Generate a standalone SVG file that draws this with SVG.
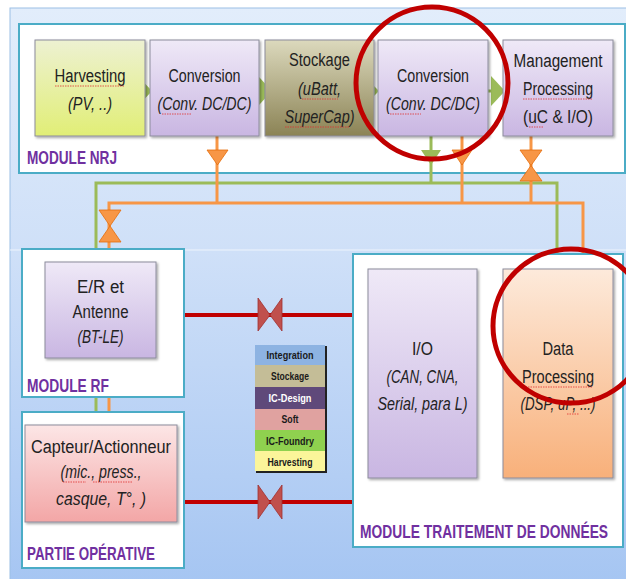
<svg xmlns="http://www.w3.org/2000/svg" width="626" height="579" viewBox="0 0 626 579">
<defs>
<linearGradient id="bg" x1="0" y1="0" x2="0" y2="1">
<stop offset="0" stop-color="#e2edfb"/><stop offset="0.42" stop-color="#cfe0f8"/><stop offset="1" stop-color="#a5c5f2"/>
</linearGradient>
<linearGradient id="gHarv" x1="0" y1="0" x2="0" y2="1"><stop offset="0" stop-color="#edf1d2"/><stop offset="1" stop-color="#e1ee76"/></linearGradient>
<linearGradient id="gLav" x1="0" y1="0" x2="0" y2="1"><stop offset="0" stop-color="#efe9f7"/><stop offset="1" stop-color="#c9b6e2"/></linearGradient>
<linearGradient id="gStock" x1="0" y1="0" x2="0" y2="1"><stop offset="0" stop-color="#dcd9bd"/><stop offset="1" stop-color="#8b8355"/></linearGradient>
<linearGradient id="gPink" x1="0" y1="0" x2="0" y2="1"><stop offset="0" stop-color="#fce6e6"/><stop offset="1" stop-color="#f3a6a6"/></linearGradient>
<linearGradient id="gOr" x1="0" y1="0" x2="0" y2="1"><stop offset="0" stop-color="#fdeadb"/><stop offset="1" stop-color="#f8b07a"/></linearGradient>
<filter id="sh" x="-10%" y="-10%" width="130%" height="130%"><feDropShadow dx="1.5" dy="1.5" stdDeviation="1.2" flood-color="#000" flood-opacity="0.35"/></filter>
</defs>
<style>
.t{font-family:"Liberation Sans",Arial,sans-serif;font-size:18px;fill:#222;text-anchor:middle}
.i{font-style:italic}
.lbl{font-family:"Liberation Sans",Arial,sans-serif;font-weight:bold;font-size:19px;fill:#7030a0}
.mod{fill:#fff;stroke:#4bacc6;stroke-width:2}
.box{stroke:#8c8c9c;stroke-width:1;filter:url(#sh)}
.gl{stroke:#9bbb59;stroke-width:3;fill:none}
.ol{stroke:#f79646;stroke-width:3;fill:none}
.gt{fill:#9bbb59}
.ot{fill:#f79646;stroke:#e46c0a;stroke-width:0.8}
.rl{stroke:#c00000;stroke-width:4;fill:none}
.rb{fill:#c0504d;stroke:#a03030;stroke-width:0.8}
.lg{font-family:"Liberation Sans",Arial,sans-serif;font-weight:bold;font-size:11px;fill:#1a1a1a;text-anchor:middle}
.sq{stroke:#e03030;stroke-width:0.8;stroke-dasharray:1.5 1;fill:none}
.circ{fill:none;stroke:#c00000;stroke-width:5}
</style>
<rect x="0" y="0" width="626" height="579" fill="#ffffff"/>
<rect x="10" y="8" width="620" height="580" fill="url(#bg)" stroke="#9cc0e6" stroke-width="1"/>
<line x1="10" y1="250" x2="626" y2="250" stroke="#eef4fc" stroke-width="1"/>

<g id="module-nrj">
<rect class="mod" x="19" y="24" width="606" height="149"/>
<text class="lbl" x="27" y="164" textLength="90" lengthAdjust="spacingAndGlyphs">MODULE NRJ</text>
</g>

<g id="connectors">
<polyline class="gl" points="96,412 96,183 557,183 557,256"/>
<polyline class="ol" points="109,412 109,203 583,203 583,256"/>
<line class="ol" x1="217" y1="136" x2="217" y2="203"/>
<line class="gl" x1="431" y1="136" x2="431" y2="183"/>
<line class="ol" x1="462" y1="136" x2="462" y2="203"/>
<line class="ol" x1="531" y1="136" x2="531" y2="203"/>
<polygon class="ot" points="207,150 228,150 217.5,165"/>
<polygon class="gt" points="421,150 441,150 431,165"/>
<polygon class="ot" points="452,150 472,150 462,165"/>
<polygon class="ot" points="520,150 542,150 531,165.5 542,181 520,181 531,165.5"/>
<polygon class="ot" points="99,210 121,210 110,226 121,242 99,242 110,226"/>
<line class="rl" x1="184" y1="315" x2="354" y2="315"/>
<line class="rl" x1="184" y1="502" x2="354" y2="502"/>
<polygon class="rb" points="258,298 270,315 282,298 282,331 270,315 258,331"/>
<polygon class="rb" points="258,485 270,502 282,485 282,519 270,502 258,519"/>
<line class="gl" x1="135" y1="91" x2="142" y2="91"/><polygon class="gt" points="138,76 152,91 138,106"/>
<line class="gl" x1="256" y1="91" x2="262" y2="91"/><polygon class="gt" points="259,77 272,91 259,105"/>
<line class="gl" x1="362" y1="91" x2="368" y2="91"/><polygon class="gt" points="365,77 379,91 365,105"/>
<line class="gl" x1="483" y1="91" x2="495" y2="91"/><polygon class="gt" points="491,76 505,91 491,106"/>
</g>

<g id="harvesting">
<rect class="box" x="35" y="40" width="110" height="96" fill="url(#gHarv)" stroke="#333"/>
<text class="t" x="90" y="82" textLength="71" lengthAdjust="spacingAndGlyphs">Harvesting</text>
<text class="t i" x="90" y="110" textLength="44" lengthAdjust="spacingAndGlyphs">(PV, ..)</text>
<path class="sq" d="M55,86 H125"/>
</g>
<g id="conversion1">
<rect class="box" x="150" y="40" width="109" height="96" fill="url(#gLav)"/>
<text class="t" x="204.5" y="82" textLength="72" lengthAdjust="spacingAndGlyphs">Conversion</text>
<text class="t i" x="204.5" y="110" textLength="94" lengthAdjust="spacingAndGlyphs">(Conv. DC/DC)</text>
<path class="sq" d="M162,114 H192"/>
</g>
<g id="stockage">
<rect class="box" x="265" y="40" width="109" height="96" fill="url(#gStock)"/>
<text class="t" x="319.5" y="66" textLength="61" lengthAdjust="spacingAndGlyphs">Stockage</text>
<text class="t i" x="319.5" y="95" textLength="43" lengthAdjust="spacingAndGlyphs">(uBatt,</text>
<text class="t i" x="319.5" y="123" textLength="70" lengthAdjust="spacingAndGlyphs">SuperCap)</text>
<path class="sq" d="M302,99 H338 M285,127 H350"/>
</g>
<g id="conversion2">
<rect class="box" x="378" y="40" width="110" height="96" fill="url(#gLav)"/>
<text class="t" x="433" y="82" textLength="72" lengthAdjust="spacingAndGlyphs">Conversion</text>
<text class="t i" x="433" y="110" textLength="94" lengthAdjust="spacingAndGlyphs">(Conv. DC/DC)</text>
<path class="sq" d="M390,114 H421"/>
</g>
<g id="management">
<rect class="box" x="503" y="40" width="110" height="96" fill="url(#gLav)"/>
<text class="t" x="558" y="67" textLength="89" lengthAdjust="spacingAndGlyphs">Management</text>
<text class="t" x="558" y="95" textLength="70" lengthAdjust="spacingAndGlyphs">Processing</text>
<text class="t" x="558" y="123" textLength="70" lengthAdjust="spacingAndGlyphs">(uC  &amp; I/O)</text>
<path class="sq" d="M523,99 H593 M529,127 H543"/>
</g>

<g id="module-rf">
<rect class="mod" x="22" y="249" width="162" height="148"/>
<rect class="box" x="45" y="262" width="111" height="96" fill="url(#gLav)"/>
<text class="t" x="100.5" y="293" textLength="47" lengthAdjust="spacingAndGlyphs">E/R et</text>
<text class="t" x="100.5" y="318" textLength="56" lengthAdjust="spacingAndGlyphs">Antenne</text>
<text class="t i" x="100.5" y="343" textLength="46" lengthAdjust="spacingAndGlyphs">(BT-LE)</text>
<text class="lbl" x="27" y="392" textLength="82" lengthAdjust="spacingAndGlyphs">MODULE RF</text>
</g>

<g id="partie-operative">
<rect class="mod" x="22" y="412" width="162" height="156"/>
<rect class="box" x="25" y="425" width="152" height="97" fill="url(#gPink)"/>
<text class="t" x="101" y="453" textLength="140" lengthAdjust="spacingAndGlyphs">Capteur/Actionneur</text>
<text class="t i" x="101" y="478" textLength="81" lengthAdjust="spacingAndGlyphs">(mic., press.,</text>
<text class="t i" x="101" y="505" textLength="90" lengthAdjust="spacingAndGlyphs">casque, T°, )</text>
<path class="sq" d="M63,482 H86 M93,482 H132"/>
<text class="lbl" x="27" y="560" textLength="128" lengthAdjust="spacingAndGlyphs">PARTIE OPÉRATIVE</text>
</g>

<g id="legend">
<rect x="256" y="346" width="71" height="127" fill="#222"/>
<rect x="255" y="345" width="70" height="20" fill="#8db3e2"/>
<rect x="255" y="365" width="70" height="22" fill="#c4bd97"/>
<rect x="255" y="387" width="70" height="22" fill="#5f497a"/>
<rect x="255" y="409" width="70" height="21" fill="#e0a2a0"/>
<rect x="255" y="430" width="70" height="21" fill="#8fd14f"/>
<rect x="255" y="451" width="70" height="20" fill="#fbf59a"/>
<text class="lg" x="290" y="359" textLength="47" lengthAdjust="spacingAndGlyphs">Integration</text>
<text class="lg" x="290" y="380" textLength="38" lengthAdjust="spacingAndGlyphs">Stockage</text>
<text class="lg" x="290" y="402" textLength="43" lengthAdjust="spacingAndGlyphs" style="fill:#fff">IC-Design</text>
<text class="lg" x="290" y="423" textLength="17" lengthAdjust="spacingAndGlyphs">Soft</text>
<text class="lg" x="290" y="445" textLength="48" lengthAdjust="spacingAndGlyphs">IC-Foundry</text>
<text class="lg" x="290" y="466" textLength="45" lengthAdjust="spacingAndGlyphs">Harvesting</text>
</g>

<g id="module-traitement">
<rect class="mod" x="353" y="254" width="270" height="293"/>
<text class="lbl" transform="translate(360,538) scale(0.728,1)" x="0" y="0">MODULE TRAITEMENT  DE DONNÉES</text>
</g>
<g id="io">
<rect class="box" x="368" y="269" width="109" height="209" fill="url(#gLav)"/>
<text class="t" x="422.5" y="355" textLength="21" lengthAdjust="spacingAndGlyphs">I/O</text>
<text class="t i" x="422.5" y="383" textLength="72" lengthAdjust="spacingAndGlyphs">(CAN, CNA,</text>
<text class="t i" x="422.5" y="410" textLength="90" lengthAdjust="spacingAndGlyphs">Serial, para L)</text>
</g>
<g id="data-processing">
<rect class="box" x="503" y="269" width="110" height="209" fill="url(#gOr)"/>
<text class="t" x="558" y="355" textLength="31" lengthAdjust="spacingAndGlyphs">Data</text>
<text class="t" x="558" y="383" textLength="72" lengthAdjust="spacingAndGlyphs">Processing</text>
<text class="t i" x="558" y="410" textLength="75" lengthAdjust="spacingAndGlyphs">(DSP, uP, ...)</text>
<path class="sq" d="M523,387 H593 M567,414 H579"/>
</g>

<g id="highlights">
<ellipse class="circ" cx="432" cy="83" rx="76" ry="76"/>
<ellipse class="circ" cx="571" cy="326" rx="78" ry="77"/>
</g>
</svg>
